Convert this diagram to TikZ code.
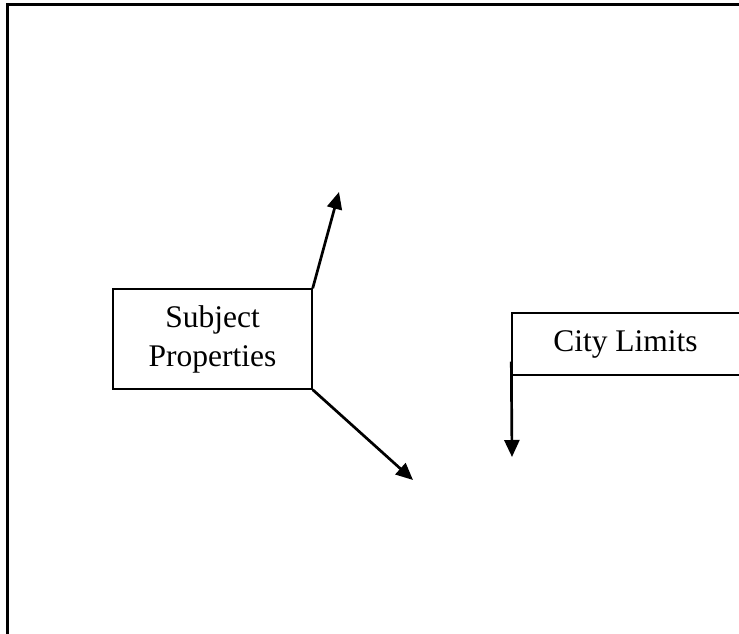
\documentclass[tikz,border=0pt]{standalone}
\usepackage{fontspec}
\setmainfont{Liberation Serif}
\usetikzlibrary{arrows.meta}
\begin{document}
\begin{tikzpicture}[x=1pt,y=-1pt]
  \tikzset{
  box/.style={draw,line width=1.4pt,rectangle,inner sep=0pt,align=center,
    font=\fontsize{31.5}{39}\selectfont},
  arr/.style={line width=2.7pt,-{Triangle[length=17pt,width=15pt]}},
  }
  \useasboundingbox (0,0) rectangle (739,634);
  % the frame
  \draw[line width=2.5pt] (7.3,640) -- (7.3,4.3) -- (745,4.3);
  % the boxes
  \node[box,minimum width=199pt,minimum height=100pt] (subj) at (212.5,339) {Subject\\Properties};
  \node[box,minimum width=233pt,minimum height=62pt] (city) at (628.5,344) {City Limits\hspace*{6pt}};
  % the arrow ends
  \coordinate (up) at (339,192);
  \coordinate (down) at (413,480);
  \coordinate (cstart) at ([yshift=14pt]city.south west);
  \coordinate (cend) at (512,457);
  % the arrows
  \draw[arr] (subj.north east) -- (up);
  \draw[arr] (subj.south east) -- (down);
  \draw[arr] (cstart) -- (cend);
\end{tikzpicture}
\end{document}
